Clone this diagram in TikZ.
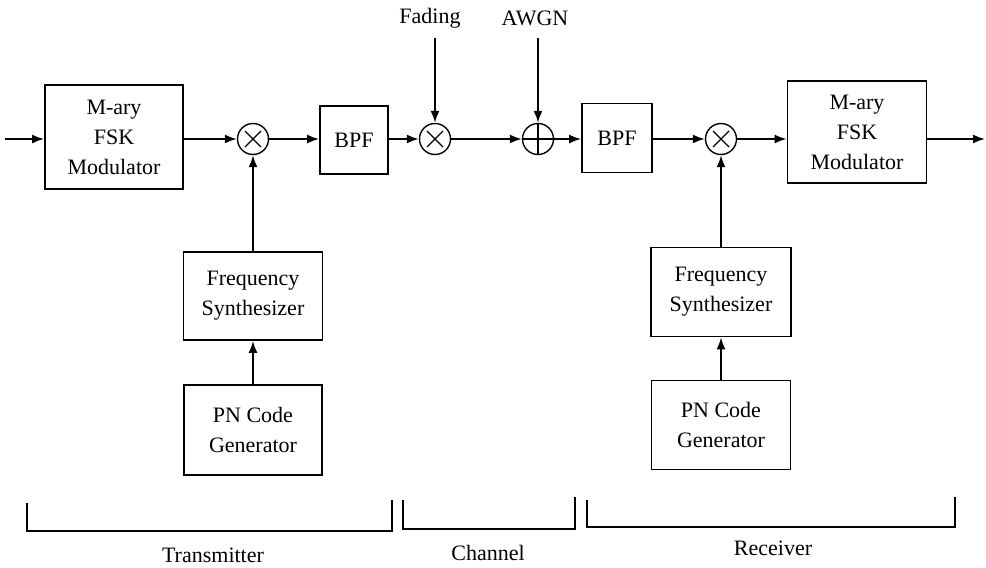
\documentclass[tikz,border=0pt]{standalone}
\usepackage{fontspec}
\setmainfont{Liberation Serif}
\usetikzlibrary{arrows.meta}
\begin{document}
\begin{tikzpicture}[x=1pt,y=-1pt,
  blk/.style={draw, line width=1.8pt, align=center, inner sep=0pt,
    font=\fontsize{22}{30}\selectfont},
  mix/.style={draw, circle, line width=1.4pt, minimum size=31pt, inner sep=0pt},
  mulx/.style={mix, path picture={
    \draw[line width=1.4pt] (path picture bounding box.center) ++(-8,-8) -- ++(16,16)
      (path picture bounding box.center) ++(-8,8) -- ++(16,-16);}},
  addx/.style={mix, path picture={
    \draw[line width=1.4pt] (path picture bounding box.center) ++(0,-16) -- ++(0,32)
      (path picture bounding box.center) ++(-16,0) -- ++(32,0);}},
  sig/.style={line width=1.8pt, -{Latex[length=12pt,width=9pt]}},
  lbl/.style={font=\fontsize{22}{26}\selectfont, inner sep=0pt},
  brk/.style={line width=1.6pt}]
\useasboundingbox (0,0) rectangle (986,568);

% main signal chain
\node[blk, minimum width=138pt, minimum height=104pt] (mod1) at (114,137) {M-ary\\FSK\\Modulator};
\node[mulx] (m1) at (253,139) {};
\node[blk, minimum width=68pt, minimum height=68pt] (bpf1) at (354,140) {BPF};
\node[mulx] (m2) at (435,139) {};
\node[addx] (add) at (538,139) {};
\node[blk, minimum width=70pt, minimum height=69pt] (bpf2) at (617,138) {BPF};
\node[mulx] (m3) at (721,139) {};
\node[blk, minimum width=139pt, minimum height=102pt] (mod2) at (857,132) {M-ary\\FSK\\Modulator};

% hopping branches
\node[blk, minimum width=139pt, minimum height=88pt] (fs1) at (253,296) {Frequency\\Synthesizer};
\node[blk, minimum width=138pt, minimum height=90pt] (pn1) at (253,430) {PN Code\\Generator};
\node[blk, minimum width=140pt, minimum height=89pt] (fs2) at (721,292) {Frequency\\Synthesizer};
\node[blk, minimum width=139pt, minimum height=89pt] (pn2) at (721,425) {PN Code\\Generator};

% channel inputs
\node[lbl] (fad) at (430,18) {Fading};
\node[lbl] (awgn) at (535,18) {AWGN};
\coordinate (fadtop) at (435,38);
\coordinate (awgntop) at (538,38);

\coordinate (in) at (5,139);
\coordinate (out) at (985,139);

% connectors
\draw[sig] (in) -- (in -| mod1.west);
\draw[sig] (mod1.east |- m1) -- (m1);
\draw[sig] (m1) -- (m1 -| bpf1.west);
\draw[sig] (bpf1.east |- m2) -- (m2);
\draw[sig] (m2) -- (add);
\draw[sig] (add) -- (add -| bpf2.west);
\draw[sig] (bpf2.east |- m3) -- (m3);
\draw[sig] (m3) -- (m3 -| mod2.west);
\draw[sig] (mod2.east |- out) -- (out);
\draw[sig] (fadtop) -- (m2.north);
\draw[sig] (awgntop) -- (add.north);
\draw[sig] (fs1) -- (m1);
\draw[sig] (pn1) -- (fs1);
\draw[sig] (fs2) -- (m3);
\draw[sig] (pn2) -- (fs2);

% section brackets
\draw[brk] (27,503) -- (27,531) -- (392,531) -- (392,500);
\draw[brk] (403,500) -- (403,529) -- (575,529) -- (575,497);
\draw[brk] (587,500) -- (587,527) -- (955,527) -- (955,497);
\node[lbl] (tx) at (213,555) {Transmitter};
\node[lbl] (ch) at (488,553) {Channel};
\node[lbl] (rx) at (773,548) {Receiver};
\end{tikzpicture}
\end{document}
